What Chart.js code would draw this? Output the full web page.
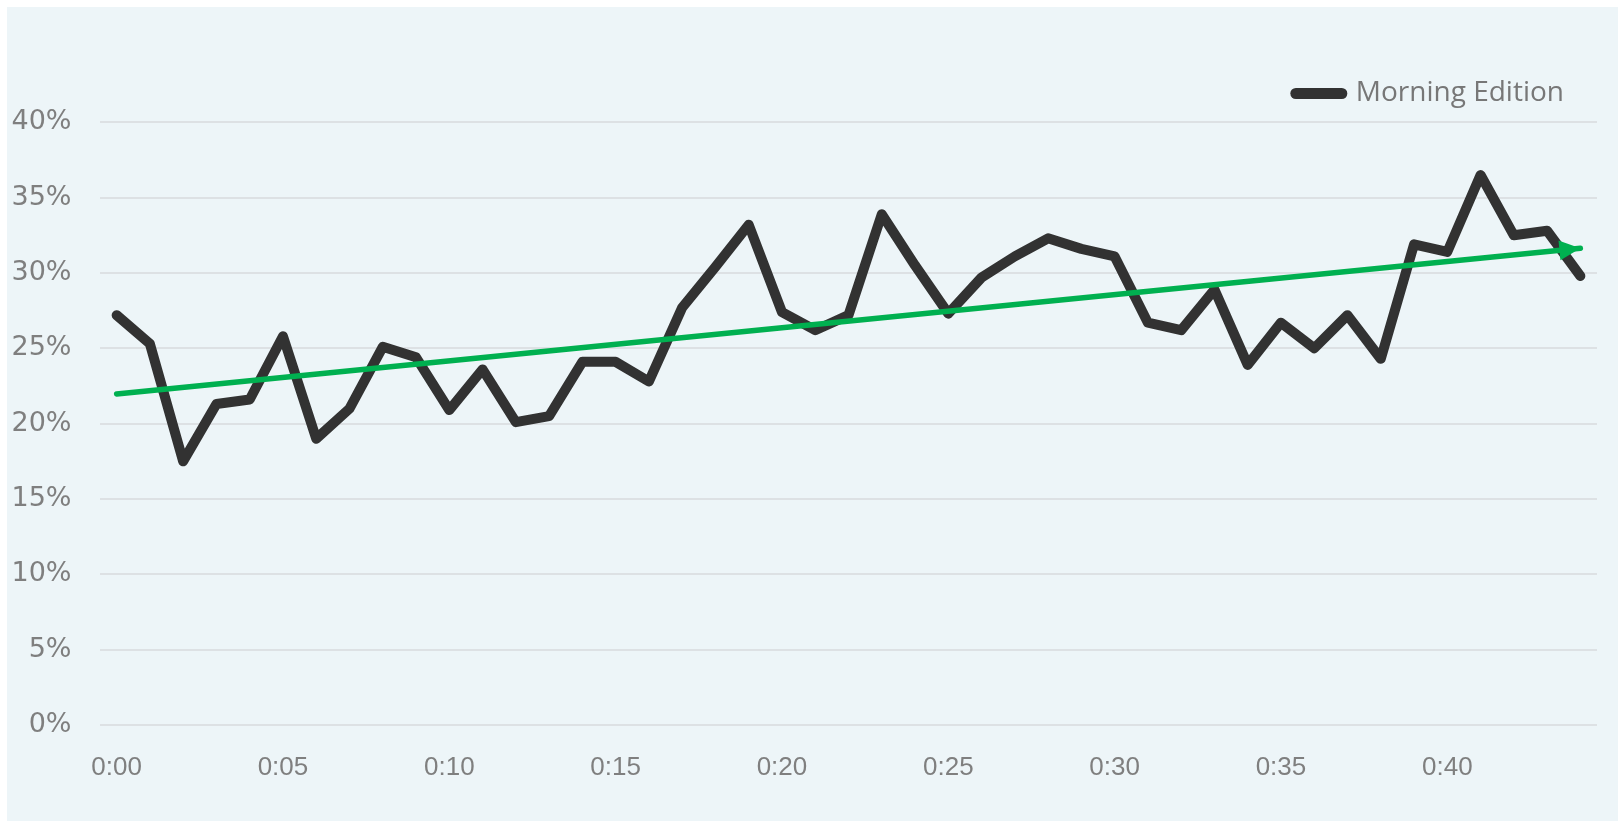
<!DOCTYPE html>
<html>
<head>
<meta charset="utf-8">
<title>Morning Edition</title>
<script src="https://cdn.jsdelivr.net/npm/chart.js@4.4.1/dist/chart.umd.min.js"></script>
<style>
  html, body { margin: 0; padding: 0; background: #ffffff; }
  #panel { position: absolute; left: 7px; top: 7px; right: 0; bottom: 0; background: #edf5f8; }
  #wrap { position: absolute; left: 0; top: 0; width: 1618px; height: 821px; }
</style>
</head>
<body>
<div id="panel"></div>
<div id="wrap"><canvas id="audienceChart"></canvas></div>
<script>
// minute of the programme
const minutes = [
  '0:00', '0:01', '0:02', '0:03', '0:04', '0:05', '0:06', '0:07', '0:08', '0:09',
  '0:10', '0:11', '0:12', '0:13', '0:14', '0:15', '0:16', '0:17', '0:18', '0:19',
  '0:20', '0:21', '0:22', '0:23', '0:24', '0:25', '0:26', '0:27', '0:28', '0:29',
  '0:30', '0:31', '0:32', '0:33', '0:34', '0:35', '0:36', '0:37', '0:38', '0:39',
  '0:40', '0:41', '0:42', '0:43', '0:44'
];
const tickLabels = ['0:00', '0:05', '0:10', '0:15', '0:20', '0:25', '0:30', '0:35', '0:40'];

// share per minute, in percent
const morningEdition = [
  27.2, 25.3, 17.5, 21.3, 21.6, 25.8, 19.0, 21.0, 25.1, 24.4,
  20.9, 23.6, 20.1, 20.5, 24.1, 24.1, 22.8, 27.7, 30.4, 33.2,
  27.4, 26.2, 27.2, 33.9, 30.5, 27.3, 29.7, 31.1, 32.3, 31.6,
  31.1, 26.7, 26.2, 28.9, 23.9, 26.7, 25.0, 27.2, 24.3, 31.9,
  31.4, 36.5, 32.5, 32.8, 29.8
];

// linear trend, first and last minute
const trendEnds = [21.97, 31.64];

const green = '#00b050';
const grey = '#7f7f7f';

// arrow at the end of the trend line
const arrowHead = {
  id: 'arrowHead',
  afterDatasetsDraw(chart) {
    const pts = chart.getDatasetMeta(1).data;
    const a = pts[0], b = pts[pts.length - 1];
    const ang = Math.atan2(b.y - a.y, b.x - a.x);
    const len = 21, half = 10;
    const c = Math.cos(ang), s = Math.sin(ang);
    const ctx = chart.ctx;
    ctx.save();
    ctx.fillStyle = green;
    ctx.beginPath();
    ctx.moveTo(b.x, b.y);
    ctx.lineTo(b.x - len * c + half * s, b.y - len * s - half * c);
    ctx.lineTo(b.x - len * c - half * s, b.y - len * s + half * c);
    ctx.closePath();
    ctx.fill();
    ctx.restore();
  }
};

new Chart(document.getElementById('audienceChart'), {
  type: 'line',
  data: {
    labels: minutes,
    datasets: [{
      label: 'Morning Edition',
      data: morningEdition,
      borderColor: '#323232',
      backgroundColor: '#323232',
      borderWidth: 10,
      borderJoinStyle: 'round',
      borderCapStyle: 'round',
      pointRadius: 0,
      tension: 0,
      order: 1
    }, {
      label: 'Trend',
      data: [{ x: minutes[0], y: trendEnds[0] }, { x: minutes[minutes.length - 1], y: trendEnds[1] }],
      borderColor: green,
      backgroundColor: green,
      borderWidth: 5.5,
      borderCapStyle: 'round',
      pointRadius: 0,
      tension: 0,
      order: 0
    }]
  },
  options: {
    responsive: true,
    maintainAspectRatio: false,
    animation: false,
    layout: {
      padding: { top: 46.5, right: 21, bottom: 0, left: 0 }
    },
    plugins: {
      tooltip: { enabled: false },
      title: {
        display: true,
        text: '',
        weight: 500,
        padding: 0,
        font: { size: 4, lineHeight: 1.2 }
      },
      legend: {
        position: 'top',
        align: 'end',
        labels: {
          filter: item => item.datasetIndex === 0,
          generateLabels: chart =>
            Chart.defaults.plugins.legend.labels.generateLabels(chart)
              .map(item => Object.assign(item, { lineCap: 'round', lineWidth: 11 })),
          usePointStyle: true,
          pointStyle: 'line',
          pointStyleWidth: 46,
          padding: 33,
          color: '#777777',
          font: { family: '"Open Sans", sans-serif', size: 28 }
        }
      }
    },
    scales: {
      x: {
        offset: true,
        grid: { display: false },
        border: { display: false },
        afterFit: scale => { scale.height = 96; },
        ticks: {
          autoSkip: false,
          maxRotation: 0,
          padding: 19,
          color: grey,
          font: { family: '"Liberation Sans", sans-serif', size: 26 },
          callback: (val, i) => tickLabels.includes(minutes[i]) ? minutes[i] : null
        }
      },
      y: {
        min: 0,
        max: 40,
        border: { display: false },
        grid: { color: '#dde1e4', lineWidth: 2, drawTicks: false },
        afterFit: scale => { scale.width = 100; },
        ticks: {
          stepSize: 5,
          padding: 28.5,
          color: grey,
          font: { family: '"DejaVu Sans", sans-serif', size: 27 },
          callback: v => v + '%'
        }
      }
    }
  },
  plugins: [arrowHead]
});
</script>
</body>
</html>
